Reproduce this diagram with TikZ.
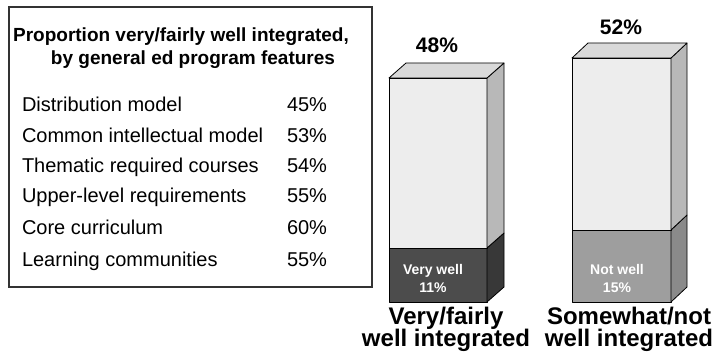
\documentclass[tikz,border=0pt]{standalone}
\usepackage{fontspec}
\setmainfont{Liberation Sans}
\usetikzlibrary{positioning}

\begin{document}
\begin{tikzpicture}
[x=1pt,y=-1pt,
 every node/.style={inner sep=0pt,outer sep=0pt},
 head/.style={font=\bfseries\fontsize{19}{20}\selectfont,anchor=base},
 feat/.style={font=\fontsize{20}{22}\selectfont,anchor=base west},
 big/.style={font=\bfseries\fontsize{21}{22}\selectfont,anchor=base},
 barcap/.style={font=\bfseries\fontsize{24}{24}\selectfont,anchor=base},
 inbar/.style={font=\bfseries\fontsize{14}{16}\selectfont,text=white,anchor=base},
 face/.style={draw=black,line width=0.8pt,line join=round},
 light/.style={face,fill=black!7},
 lightside/.style={face,fill=black!28},
 lighttop/.style={face,fill=black!15}]
\useasboundingbox (0,0) rectangle (715,355);

% left panel
\node[draw=black!80,line width=1.5pt,minimum width=363pt,minimum height=280pt,anchor=north west] (frame) at (9,7) {};
\node[head] (t1) at (181,42) {Proportion very/fairly well integrated,};
\node[head] (t2) at (193,65) {by general ed program features};

\node[feat] (f1) at (22,112) {Distribution model};
\node[feat] (f2) [below=31pt of f1.base west,anchor=base west] {Common intellectual model};
\node[feat] (f3) [below=30pt of f2.base west,anchor=base west] {Thematic required courses};
\node[feat] (f4) [below=30pt of f3.base west,anchor=base west] {Upper-level requirements};
\node[feat] (f5) [below=32pt of f4.base west,anchor=base west] {Core curriculum};
\node[feat] (f6) [below=32pt of f5.base west,anchor=base west] {Learning communities};

\node[feat] (p1) at (287,112) {45\%};
\node[feat] (p2) [below=31pt of p1.base west,anchor=base west] {53\%};
\node[feat] (p3) [below=30pt of p2.base west,anchor=base west] {54\%};
\node[feat] (p4) [below=30pt of p3.base west,anchor=base west] {55\%};
\node[feat] (p5) [below=32pt of p4.base west,anchor=base west] {60\%};
\node[feat] (p6) [below=32pt of p5.base west,anchor=base west] {55\%};

% bar: very/fairly well integrated
\draw[face,fill=black!70] (389,248) rectangle (487,302);
\draw[face,fill=black!78] (487,302) -- (504,287) -- (504,233) -- (487,248) -- cycle;
\draw[light] (389,78) rectangle (487,248);
\draw[lightside] (487,248) -- (504,233) -- (504,63) -- (487,78) -- cycle;
\draw[lighttop] (389,78) -- (406,63) -- (504,63) -- (487,78) -- cycle;

% bar: somewhat/not well integrated
\draw[face,fill=black!38] (572,230) rectangle (671,302);
\draw[face,fill=black!46] (671,302) -- (687,287) -- (687,215) -- (671,230) -- cycle;
\draw[light] (572,58) rectangle (671,230);
\draw[lightside] (671,230) -- (687,215) -- (687,43) -- (671,58) -- cycle;
\draw[lighttop] (572,58) -- (588,43) -- (687,43) -- (671,58) -- cycle;

\node[big] (v1) at (437,53) {48\%};
\node[big] (v2) at (621,35) {52\%};

\node[inbar] (w1) at (433,275) {Very well};
\node[inbar] (w2) [below=18pt of w1.base,anchor=base] {11\%};
\node[inbar] (n1) at (617,275) {Not well};
\node[inbar] (n2) [below=18pt of n1.base,anchor=base] {15\%};

\node[barcap] (c1) at (446,325) {Very/fairly};
\node[barcap] (c2) [below=22pt of c1.base,anchor=base] {well integrated};
\node[barcap] (c3) at (629,325) {Somewhat/not};
\node[barcap] (c4) [below=22pt of c3.base,anchor=base] {well integrated};
\end{tikzpicture}
\end{document}
